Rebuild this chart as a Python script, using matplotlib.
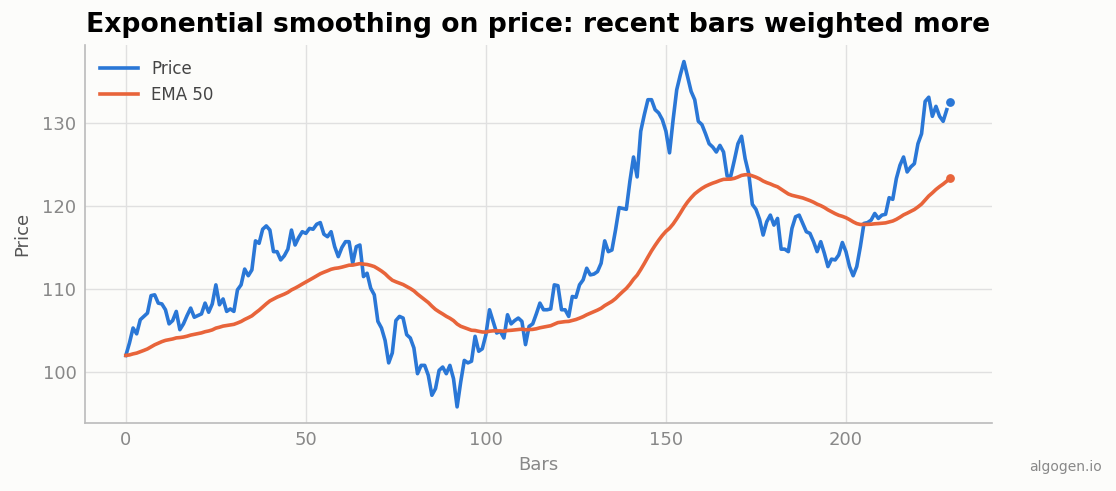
import numpy as np
import pandas as pd
import matplotlib.pyplot as plt

# price values, one per bar (0..229)
price = [
    102.0, 103.5, 105.3, 104.6, 106.3, 106.7, 107.1, 109.2, 109.3, 108.3,
    108.2, 107.5, 105.8, 106.2, 107.3, 105.1, 105.8, 106.8, 107.7, 106.6,
    106.8, 107.0, 108.3, 107.2, 108.2, 110.5, 108.1, 108.8, 107.3, 107.6,
    107.3, 109.9, 110.5, 112.4, 111.6, 112.3, 115.8, 115.5, 117.2, 117.6,
    117.1, 114.5, 114.5, 113.5, 114.0, 114.8, 117.1, 115.3, 116.2, 116.9,
    116.7, 117.3, 117.2, 117.8, 118.0, 116.6, 116.3, 116.9, 115.1, 113.9,
    115.0, 115.7, 115.7, 113.1, 115.1, 115.3, 111.5, 111.9, 110.1, 109.3,
    106.1, 105.3, 103.8, 101.1, 102.3, 106.2, 106.7, 106.5, 104.5, 104.1,
    102.9, 99.8, 100.8, 100.8, 99.6, 97.2, 98.0, 100.2, 100.6, 99.8,
    100.8, 99.2, 95.8, 98.8, 101.4, 101.1, 101.3, 104.3, 102.5, 102.8,
    104.5, 107.5, 106.1, 104.7, 104.9, 104.1, 106.9, 105.8, 106.2, 106.5,
    106.1, 103.3, 105.5, 105.8, 107.0, 108.3, 107.5, 107.5, 107.6, 110.5,
    110.4, 107.5, 107.5, 106.7, 109.1, 109.0, 110.5, 111.1, 112.5, 111.7,
    111.8, 112.1, 113.1, 115.8, 114.5, 114.7, 117.1, 119.8, 119.7, 119.6,
    123.0, 125.9, 123.5, 129.0, 131.0, 132.8, 132.8, 131.6, 131.2, 130.4,
    129.0, 126.4, 130.4, 134.0, 135.8, 137.4, 135.6, 133.8, 132.8, 130.2,
    129.8, 128.7, 127.5, 127.1, 126.5, 127.3, 126.5, 123.6, 123.6, 125.5,
    127.5, 128.4, 125.7, 123.9, 120.2, 119.6, 118.4, 116.5, 118.1, 118.9,
    117.7, 118.5, 114.8, 114.8, 114.5, 117.3, 118.7, 118.9, 117.9, 116.9,
    116.7, 115.7, 114.5, 115.7, 114.3, 112.7, 113.6, 113.5, 114.1, 115.6,
    114.5, 112.7, 111.6, 112.7, 115.1, 117.9, 118.0, 118.3, 119.1, 118.5,
    118.9, 119.0, 121.0, 120.8, 123.3, 124.9, 125.9, 124.1, 124.7, 125.1,
    127.5, 128.7, 132.6, 133.1, 130.8, 132.0, 130.8, 130.2, 131.6, 132.5,
]
span = 50

bars = np.arange(len(price))
ema = pd.Series(price).ewm(span=span, adjust=False).mean().values

blue = '#2a77d6'
orange = '#e8643a'
bg = '#fcfcfa'
gray = '#888888'

fig = plt.figure(figsize=(11.16, 4.91), dpi=100, facecolor=bg)
ax = fig.add_axes([0.076, 0.1385, 0.813, 0.77], facecolor=bg)

ax.plot(bars[:-1], price[:-1], color=blue, lw=2.6, label='Price')
ax.plot(bars[:-1], ema[:-1], color=orange, lw=2.6, label=f'EMA {span}')
ax.scatter([bars[-1]], [price[-1]], color=blue, s=28, zorder=3)
ax.scatter([bars[-1]], [ema[-1]], color=orange, s=28, zorder=3)

ax.set_xlim(-11.4, 240.6)
ax.set_ylim(93.86, 139.4)
ax.set_xticks([0, 50, 100, 150, 200])
ax.set_yticks([100, 110, 120, 130])
ax.grid(True, color='#e0e0e0', lw=1)
ax.set_axisbelow(True)
for s in ['top', 'right']:
    ax.spines[s].set_visible(False)
for s in ['left', 'bottom']:
    ax.spines[s].set_color('#bbbbbb')
    ax.spines[s].set_linewidth(1.2)
ax.tick_params(length=0, labelsize=13, labelcolor=gray, pad=6)

ax.set_xlabel('Bars', fontsize=13, color=gray, labelpad=5)
ax.set_ylabel('Price', fontsize=13, color='#555555', labelpad=8)
ax.set_title('Exponential smoothing on price: recent bars weighted more',
             fontsize=19.2, fontweight='bold', pad=9)

leg = ax.legend(loc='upper left', frameon=False, fontsize=12, handlelength=2.3)
for t in leg.get_texts():
    t.set_color('#444444')

fig.text(0.987, 0.035, 'algogen.io', ha='right', va='bottom', fontsize=10, color='#888888')

fig.savefig('out.png', dpi=100, facecolor=bg)
